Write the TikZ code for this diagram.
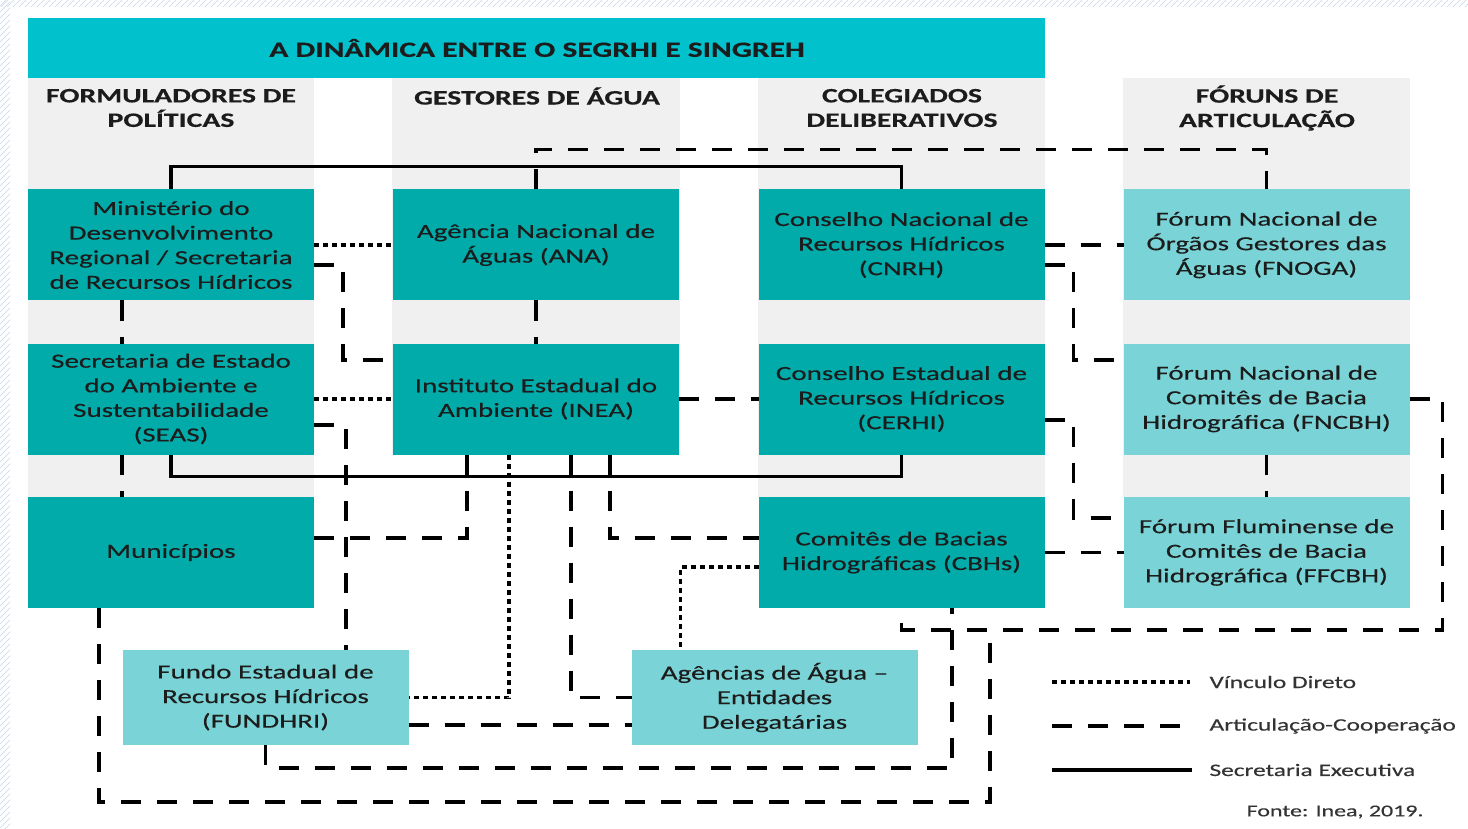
\documentclass[tikz,border=0pt]{standalone}
\usepackage{fontspec}
\setmainfont{Carlito}[FakeStretch=1.45,FakeBold=0.35]
\usetikzlibrary{calc}
\definecolor{titlecol}{HTML}{00C1CC}
\definecolor{darkbox}{HTML}{00ABA9}
\definecolor{lightbox}{HTML}{7AD3D6}
\definecolor{colbg}{HTML}{F0F0F0}
\definecolor{txt}{HTML}{1C1C1C}
\definecolor{hatchc}{HTML}{C9D6EA}
\definecolor{legtxt}{HTML}{333333}
\tikzset{
 orgbox/.style={inner sep=0pt, outer sep=0pt, minimum width=286pt, align=center, text=txt, font=\fontsize{20}{24.6}\selectfont},
 dbox/.style={orgbox, fill=darkbox, minimum height=111pt},
 lbox/.style={orgbox, fill=lightbox, minimum height=111pt},
 lboxs/.style={orgbox, fill=lightbox, minimum height=95pt},
 dotl/.style={line width=3.5pt, dash pattern=on 5pt off 4pt},
 dashl/.style={line width=3.5pt, dash pattern=on 20pt off 16pt},
 solidl/.style={line width=3.5pt},
 colhead/.style={font=\bfseries\fontsize{20.5}{24.5}\selectfont, align=center, text=txt},
 legtext/.style={anchor=west, font=\fontsize{17.5}{20}\selectfont, text=legtxt},
 hatch/.style={draw=hatchc, line width=0.6pt},
}
\begin{document}
\begin{tikzpicture}[x=1pt,y=-1pt]
\useasboundingbox (0,0) rectangle (1468,829);
\fill[white] (0,0) rectangle (1468,829);
% hatched borders
\begin{scope}
\clip (0,0) rectangle (10,829);
\foreach \i in {0,6,...,846} \draw[hatch] (0,\i) -- (12,\i-12);
\end{scope}
\begin{scope}
\clip (0,0) rectangle (1468,7);
\foreach \i in {0,6,...,1480} \draw[hatch] (\i,8) -- (\i+8,0);
\end{scope}
% column backgrounds
\fill[colbg] (28,78) rectangle (314,497);
\fill[colbg] (392,78) rectangle (680,455);
\fill[colbg] (758,78) rectangle (1045,497);
\fill[colbg] (1123,78) rectangle (1410,497);
% title
\fill[titlecol] (28,18) rectangle (1045,78);
\node[font=\bfseries\fontsize{21.7}{24}\selectfont, text=txt] (title) at (537,48) {A DINÂMICA ENTRE O SEGRHI E SINGREH};
% column headers
\node[colhead] (h1) at (171,108) {FORMULADORES DE\\POLÍTICAS};
\node[colhead] (h2) at (537,96) {GESTORES DE ÁGUA};
\node[colhead] (h3) at (902,108) {COLEGIADOS\\DELIBERATIVOS};
\node[colhead] (h4) at (1267,108) {FÓRUNS DE\\ARTICULAÇÃO};
% boxes
\node[dbox] (mdr) at (171,245) {Ministério do\\Desenvolvimento\\Regional / Secretaria\\de Recursos Hídricos};
\node[dbox] (ana) at (536,245) {Agência Nacional de\\Águas (ANA)};
\node[dbox] (cnrh) at (901.5,245) {Conselho Nacional de\\Recursos Hídricos\\(CNRH)};
\node[lbox] (fnoga) at (1266.5,245) {Fórum Nacional de\\Órgãos Gestores das\\Águas (FNOGA)};
\node[dbox] (seas) at (171,399) {Secretaria de Estado\\do Ambiente e\\Sustentabilidade\\(SEAS)};
\node[dbox] (inea) at (536,399) {Instituto Estadual do\\Ambiente (INEA)};
\node[dbox] (cerhi) at (901.5,399) {Conselho Estadual de\\Recursos Hídricos\\(CERHI)};
\node[lbox] (fncbh) at (1266.5,399) {Fórum Nacional de\\Comitês de Bacia\\Hidrográfica (FNCBH)};
\node[dbox] (mun) at (171,552.5) {Municípios};
\node[dbox] (cbh) at (901.5,552.5) {Comitês de Bacias\\Hidrográficas (CBHs)};
\node[lbox] (ffcbh) at (1266.5,552.5) {Fórum Fluminense de\\Comitês de Bacia\\Hidrográfica (FFCBH)};
\node[lboxs] (fund) at (265.5,697.5) {Fundo Estadual de\\Recursos Hídricos\\(FUNDHRI)};
\node[lboxs] (agen) at (774.5,697.5) {Agências de Água –\\Entidades\\Delegatárias};
% solid connectors (Secretaria Executiva)
\draw[solidl] (mdr.north) -- ++(0,-23) -| (cnrh.north);
\draw[solidl] (seas.south) -- ++(0,22) -| (cerhi.south);
% dotted connectors (Vinculo Direto)
\draw[dotl] (mdr.east) -- (ana.west);
\draw[dotl] (seas.east) -- (inea.west);
\draw[dotl] ($(inea.south)+(-27,0)$) |- (fund.east);
\draw[dotl] ($(cbh.west)+(0,14.5)$) -| ($(agen.north west)+(49,0)$);
% dashed connectors (Articulacao-Cooperacao)
\draw[dashl] (ana.north) -- ++(0,-40) -| (fnoga.north);
\draw[dashl] ($(mdr.south)+(-49,0)$) -- ($(seas.north)+(-49,0)$);
\draw[dashl] ($(seas.south)+(-49,0)$) -- ($(mun.north)+(-49,0)$);
\draw[dashl] ($(mdr.east)+(0,20)$) -- ++(29,0) |- ($(inea.west)+(0,-39)$);
\draw[dashl] ($(seas.east)+(0,26)$) -| ($(fund.north)+(80.5,0)$);
\draw[dashl] (ana.south) -- (inea.north);
\draw[dashl] (inea.east) -- (cerhi.west);
\draw[dashl] ($(mun.east)+(0,-14.5)$) -| ($(inea.south)+(-69,0)$);
\draw[dashl] ($(inea.south)+(35,0)$) |- (agen.west);
\draw[dashl] ($(inea.south)+(74,0)$) |- ($(cbh.west)+(0,-14.5)$);
\draw[dashl] ($(fund.east)+(0,27.5)$) -- ($(agen.west)+(0,27.5)$);
\draw[dashl] (fund.south) -- ++(0,23) -| ($(cbh.south)+(50.5,0)$);
\draw[dashl] (fncbh.east) -- ++(33,0) |- ($(cbh.south)+(0,22)$) -- (cbh.south);
\coordinate (busj) at (990,630);
\coordinate (mcorner) at (990,802);
\draw[dashl] ($(mun.south)+(-72,0)$) |- (mcorner) -- (busj);
\draw[dashl] (cnrh.east) -- (fnoga.west);
\draw[dashl] ($(cnrh.east)+(0,20)$) -- ++(29,0) |- ($(fncbh.west)+(0,-39)$);
\draw[dashl] ($(cerhi.east)+(0,21)$) -- ++(29,0) |- ($(ffcbh.west)+(0,-34.5)$);
\draw[dashl] (cbh.east) -- (ffcbh.west);
\draw[dashl] (fncbh.south) -- (ffcbh.north);
% legend
\coordinate (l1a) at (1052,682); \coordinate (l1b) at (1190,682);
\coordinate (l2a) at (1052,726); \coordinate (l2b) at (1190,726);
\coordinate (l3a) at (1052,770); \coordinate (l3b) at (1192,770);
\draw[dotl] (l1a) -- (l1b);
\draw[dashl] (l2a) -- (l2b);
\draw[solidl] (l3a) -- (l3b);
\node[legtext] (t1) at (1206,682) {Vínculo Direto};
\node[legtext] (t2) at (1206,726) {Articulação-Cooperação};
\node[legtext] (t3) at (1206,770) {Secretaria Executiva};
\node[anchor=east, font=\fontsize{16.5}{19}\selectfont, text=legtxt] (fonte) at (1427,812) {Fonte: Inea, 2019.};
\end{tikzpicture}
\end{document}
